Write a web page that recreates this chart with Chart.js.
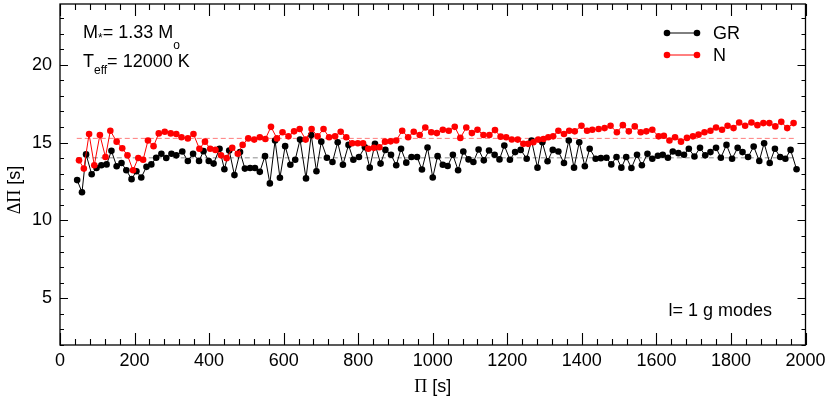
<!DOCTYPE html>
<html><head><meta charset="utf-8">
<script src="https://cdn.jsdelivr.net/npm/chart.js@4/dist/chart.umd.min.js"></script>
<style>html,body{margin:0;padding:0;background:#fff;overflow:hidden}canvas{display:block}</style>
</head><body>
<canvas id="c" width="830" height="398"></canvas>
<script>
// ---- data ----
const periodGR = [46,59,70,85,98,111,125,138,152,165,178,192,205,218,232,245,258,272,285,299,312,328,343,357,373,385,399,412,
428,441,454,468,483,496,510,523,536,550,563,577,590,604,618,631,644,660,674,688,701,716,731,745,759,774,787,802,
818,831,845,860,873,888,902,915,929,943,958,971,986,1000,1013,1027,1040,1054,1068,1082,1096,1109,1123,1137,1151,1166,1179,1192,
1207,1221,1236,1252,1265,1281,1294,1308,1322,1337,1352,1365,1379,1393,1408,1421,1437,1451,1466,1479,1493,1506,1519,1533,1548,1561,1576,1589,
1604,1617,1631,1644,1659,1674,1687,1702,1717,1731,1745,1760,1773,1788,1803,1818,1831,1846,1861,1876,1889,1904,1918,1932,1946,1960,1976];
const spacingGR = [12.59,11.81,14.24,12.97,13.37,13.54,13.60,14.47,13.48,13.69,13.22,12.65,13.16,12.76,13.44,13.60,14.03,14.28,14.01,14.28,14.18,14.43,13.82,14.28,13.82,14.45,13.82,13.65,
14.60,13.29,14.49,12.91,14.39,13.33,13.37,13.37,13.12,14.13,12.38,15.13,12.74,14.77,13.58,13.90,15.19,12.70,15.49,13.16,15.06,14.03,13.75,15.02,13.58,14.85,13.90,14.07,
14.70,13.39,14.92,13.65,14.53,14.22,13.54,14.60,13.71,14.07,14.07,13.27,14.68,12.76,14.13,13.58,13.50,14.22,13.22,14.43,13.92,13.75,14.56,13.86,14.49,14.22,13.92,14.81,
13.90,14.39,14.53,13.96,15.13,13.39,15.02,13.80,14.53,14.43,13.69,15.13,13.39,15.02,13.48,14.60,13.96,14.00,14.03,13.60,14.07,13.39,14.07,13.37,14.22,13.54,14.28,13.96,
14.15,14.22,14.03,14.43,14.32,14.22,14.60,14.11,14.66,14.18,14.39,14.66,14.03,14.85,13.96,14.66,14.39,14.07,14.75,13.82,14.96,13.69,14.60,14.07,13.96,14.53,13.29];

const periodN = [51,64,78,92,107,122,135,152,167,181,196,210,223,236,251,265,281,297,312,326,343,358,374,389,403,
417,432,447,462,477,490,505,521,536,551,566,582,597,613,628,643,659,675,691,707,722,738,753,768,784,799,
813,827,842,857,872,887,902,918,934,949,965,980,996,1011,1027,1043,1059,1074,1090,1105,1120,1136,1152,1167,1182,1197,
1212,1228,1243,1256,1270,1283,1297,1310,1323,1337,1352,1366,1381,1399,1414,1428,1445,1461,1477,1494,1510,1526,1542,1558,1573,1589,1606,
1620,1635,1650,1666,1682,1698,1713,1729,1745,1760,1776,1791,1807,1822,1838,1855,1871,1887,1903,1919,1935,1951,1968];
const spacingN = [13.86,13.33,15.55,13.54,15.49,14.07,15.76,15.06,14.64,14.18,13.22,14.01,13.90,15.13,14.77,15.59,15.70,15.59,15.55,15.34,15.27,15.55,14.60,15.06,14.60,
14.53,14.18,14.00,14.66,14.28,14.85,15.27,15.19,15.34,15.23,16.01,15.27,15.66,15.40,15.72,15.87,15.19,15.87,15.40,15.87,15.34,15.40,15.70,15.34,14.96,14.96,
14.96,14.60,14.66,14.70,15.06,15.08,15.13,15.76,15.34,15.70,15.49,15.97,15.66,15.61,15.82,15.76,16.01,15.30,15.97,15.61,15.82,15.49,15.49,15.80,15.38,15.34,
15.20,15.19,14.92,14.92,15.02,15.19,15.23,15.34,15.40,15.76,15.55,15.76,15.72,16.08,15.76,15.82,15.87,15.93,16.08,15.66,16.12,15.72,16.04,15.66,15.72,15.82,15.40,
15.44,15.13,15.34,15.06,15.30,15.40,15.51,15.66,15.76,15.97,15.82,16.08,15.93,16.29,16.08,16.29,16.12,16.25,16.25,16.04,16.33,15.93,16.25];

const asymPeriods = [45, 1975];
const asymN = [15.27, 15.27];
const asymGR = [14.02, 14.02];

const xTicks = [0,200,400,600,800,1000,1200,1400,1600,1800,2000];
const yTicks = [5,10,15,20];
const xMinorStep = 40;
const yMinorStep = 1;

const seriesNames = ['GR', 'N'];

// ---- drawing ----
const SANS = "'Liberation Sans', Arial, Helvetica, sans-serif";
const SERIF = "'Liberation Serif', 'Times New Roman', serif";
const RED = '#ff0000';

function pts(xs, ys) { return xs.map((x, i) => ({ x: x, y: ys[i] })); }

function drawParts(ctx, x, y, parts) {
  let cx = x;
  for (const p of parts) {
    ctx.font = p.size + 'px ' + (p.family || SANS);
    ctx.fillText(p.t, cx, y + (p.dy || 0));
    cx += ctx.measureText(p.t).width + (p.gap || 0);
  }
}
function partsWidth(ctx, parts) {
  let w = 0;
  for (const p of parts) { ctx.font = p.size + 'px ' + (p.family || SANS); w += ctx.measureText(p.t).width; }
  return w;
}

const framePlugin = {
  id: 'framePlugin',
  afterDatasetsDraw(chart) {
    const ctx = chart.ctx, a = chart.chartArea;
    const xs = chart.scales.x, ys = chart.scales.y;
    ctx.save();
    ctx.strokeStyle = '#000';
    ctx.lineWidth = 1.3;
    ctx.strokeRect(a.left, a.top, a.right - a.left, a.bottom - a.top);
    ctx.lineWidth = 1.1;
    ctx.beginPath();
    for (let v = xs.min; v <= xs.max + 1e-6; v += xMinorStep) {
      const px = Math.round(xs.getPixelForValue(v)) + 0.5;
      const major = xTicks.includes(v);
      const L = major ? 12 : 6;
      ctx.moveTo(px, a.bottom); ctx.lineTo(px, a.bottom - L);
      ctx.moveTo(px, a.top); ctx.lineTo(px, a.top + L);
    }
    for (let v = Math.ceil(ys.min); v <= ys.max + 1e-6; v += yMinorStep) {
      const py = Math.round(ys.getPixelForValue(v)) + 0.5;
      const major = yTicks.includes(v);
      const L = major ? 8 : 4;
      ctx.moveTo(a.left, py); ctx.lineTo(a.left + L, py);
      ctx.moveTo(a.right, py); ctx.lineTo(a.right - L, py);
    }
    ctx.stroke();

    // legend
    const leg = [{ name: seriesNames[0], c: '#000', y: 33 }, { name: seriesNames[1], c: RED, y: 55 }];
    for (const l of leg) {
      ctx.strokeStyle = l.c; ctx.fillStyle = l.c; ctx.lineWidth = 1;
      ctx.beginPath(); ctx.moveTo(667, l.y); ctx.lineTo(697, l.y); ctx.stroke();
      for (const px of [667, 697]) { ctx.beginPath(); ctx.arc(px, l.y, 3.3, 0, Math.PI * 2); ctx.fill(); }
      ctx.fillStyle = '#000';
      ctx.font = '18px ' + SANS; ctx.textBaseline = 'middle'; ctx.textAlign = 'left';
      ctx.fillText(l.name, 713, l.y + 1);
    }

    // annotations
    ctx.fillStyle = '#000'; ctx.textBaseline = 'alphabetic'; ctx.textAlign = 'left';
    drawParts(ctx, 83, 38, [
      { t: 'M', size: 18 }, { t: '*', size: 12, dy: 4 }, { t: '= 1.33 M', size: 18 }, { t: 'o', size: 12, dy: 11 }
    ]);
    drawParts(ctx, 83, 67, [
      { t: 'T', size: 18 }, { t: 'eff', size: 12, dy: 7 }, { t: '= 12000 K', size: 18 }
    ]);
    ctx.font = '18px ' + SANS; ctx.textAlign = 'right'; ctx.textBaseline = 'middle';
    ctx.fillText('l= 1 g modes', 772, 311);

    // axis titles
    ctx.textAlign = 'left'; ctx.textBaseline = 'middle';
    const xt = [{ t: '\u03A0', size: 18, family: SERIF }, { t: ' [s]', size: 18 }];
    const wx = partsWidth(ctx, xt);
    drawParts(ctx, (a.left + a.right) / 2 - wx / 2, 387, xt);
    const yt = [{ t: '\u0394\u03A0', size: 18, family: SERIF }, { t: ' [s]', size: 18 }];
    const wy = partsWidth(ctx, yt);
    ctx.save();
    ctx.translate(15, 190); ctx.rotate(-Math.PI / 2);
    drawParts(ctx, -wy / 2, 0, yt);
    ctx.restore();
    ctx.restore();
  }
};

new Chart(document.getElementById('c').getContext('2d'), {
  type: 'line',
  data: {
    datasets: [
      { label: seriesNames[1], data: pts(periodN, spacingN), borderColor: RED, backgroundColor: RED,
        borderWidth: 1, pointRadius: 3.3, pointBorderWidth: 0, pointBackgroundColor: RED, tension: 0, order: 0 },
      { label: seriesNames[0], data: pts(periodGR, spacingGR), borderColor: '#000', backgroundColor: '#000',
        borderWidth: 1, pointRadius: 3.3, pointBorderWidth: 0, pointBackgroundColor: '#000', tension: 0, order: 1 },
      { label: 'N asymptotic', data: pts(asymPeriods, asymN), borderColor: 'rgba(255,80,80,0.75)',
        borderWidth: 1, borderDash: [5, 3], pointRadius: 0, order: 2 },
      { label: 'GR asymptotic', data: pts(asymPeriods, asymGR), borderColor: 'rgba(110,110,110,0.8)',
        borderWidth: 1, borderDash: [5, 3], pointRadius: 0, order: 3 }
    ]
  },
  options: {
    responsive: false, animation: false, devicePixelRatio: 1,
    layout: { padding: { top: 3, right: 24.5, left: 0, bottom: 0 } },
    plugins: { legend: { display: false }, tooltip: { enabled: false } },
    scales: {
      x: {
        type: 'linear', min: 0, max: 2000,
        afterBuildTicks: s => { s.ticks = xTicks.map(v => ({ value: v })); },
        afterFit: s => { s.height = 53; s.paddingLeft = 0; s.paddingRight = 0; },
        grid: { display: false, drawTicks: false }, border: { display: false },
        ticks: { font: { family: SANS, size: 18 }, color: '#000', padding: 5, maxRotation: 0, minRotation: 0, autoSkip: false,
                 callback: v => String(v) }
      },
      y: {
        type: 'linear', min: 2, max: 23.9,
        afterBuildTicks: s => { s.ticks = yTicks.map(v => ({ value: v })); },
        afterFit: s => { s.width = 60; s.paddingTop = 0; s.paddingBottom = 0; },
        grid: { display: false, drawTicks: false }, border: { display: false },
        ticks: { font: { family: SANS, size: 18 }, color: '#000', padding: 8, callback: v => String(v) }
      }
    }
  },
  plugins: [framePlugin]
});
</script>
</body></html>
